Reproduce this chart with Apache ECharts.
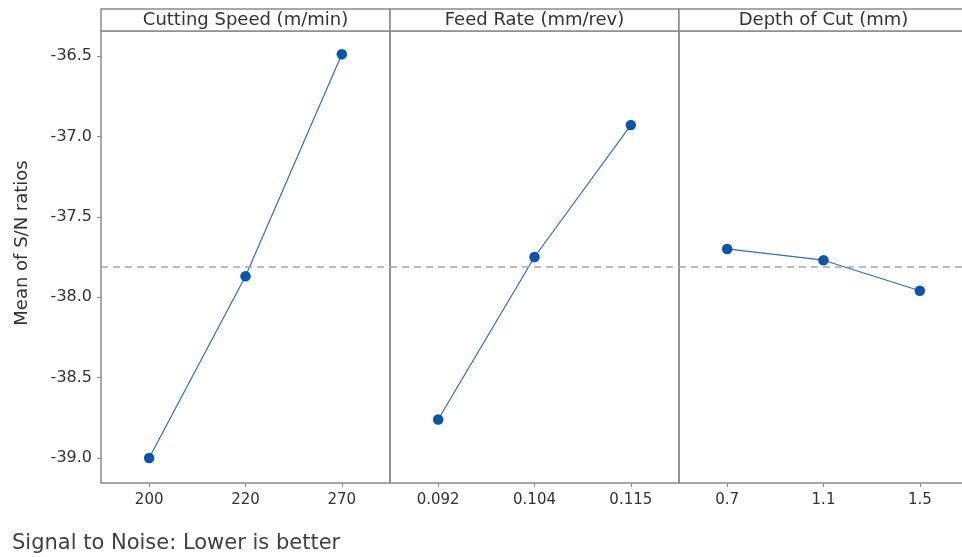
<!DOCTYPE html>
<html>
<head>
    <meta charset="utf-8">
    <title>Main Effects Plot for S/N ratios</title>
    <script type="text/javascript" src="https://cdn.jsdelivr.net/npm/echarts@6/dist/echarts.min.js"></script>
    <style>
        *{ margin:0; padding:0; }
        body{ background:#fff; }
        #main{ width:962px; height:557px; }
    </style>
</head>
<body>
<div id="main"></div>
<script type="text/javascript">
    // factor levels
    var speedLevels = ['200', '220', '270'];
    var feedLevels = ['0.092', '0.104', '0.115'];
    var depthLevels = ['0.7', '1.1', '1.5'];
    // mean of S/N ratios per level
    var speedSN = [-39.00, -37.87, -36.49];
    var feedSN = [-38.76, -37.75, -36.93];
    var depthSN = [-37.70, -37.77, -37.96];
    var overallMean = -37.81;
    var panelTitles = ['Cutting Speed (m/min)', 'Feed Rate (mm/rev)', 'Depth of Cut (mm)'];
    var yTicks = [-39.0, -38.5, -38.0, -37.5, -37.0, -36.5];

    (function(){
        var chart = echarts.init(document.getElementById('main'));
        var font = 'DejaVu Sans';
        var gray = '#8a8a8a';
        var panelLeft = [101, 390, 679];
        var panelW = 289;
        var top = 31, height = 452;

        var levels = [speedLevels, feedLevels, depthLevels];
        var values = [speedSN, feedSN, depthSN];

        var grids = [], xAxes = [], yAxes = [], series = [], graphics = [];
        for (var i = 0; i < 3; i++) {
            grids.push({
                left: panelLeft[i], top: top, width: panelW, height: height,
                outerBoundsMode: 'none',
                show: true, borderColor: gray, borderWidth: 1.5, backgroundColor: 'transparent'
            });
            xAxes.push({
                type: 'category', gridIndex: i, data: levels[i], boundaryGap: true,
                axisLine: {show: false},
                axisTick: {show: true, alignWithLabel: true, length: 4, lineStyle: {color: gray}},
                axisLabel: {color: '#333', fontFamily: font, fontSize: 15, margin: 10},
                splitLine: {show: false}
            });
            yAxes.push({
                type: 'value', gridIndex: i, min: -39.155, max: -36.345,
                axisLine: {show: false},
                axisTick: {show: i === 0, length: 4, customValues: yTicks, lineStyle: {color: gray}},
                axisLabel: {
                    show: i === 0, customValues: yTicks, color: '#333', fontFamily: font,
                    fontSize: 16, margin: 9,
                    formatter: function (v) { return v.toFixed(1); }
                },
                splitLine: {show: false}
            });
            series.push({
                type: 'line', xAxisIndex: i, yAxisIndex: i, data: values[i],
                symbol: 'circle', symbolSize: 10.5,
                lineStyle: {color: '#2a6fc4', width: 1.2},
                itemStyle: {color: '#0b55a8'},
                animation: false,
                markLine: {
                    silent: true, symbol: 'none', label: {show: false},
                    lineStyle: {color: '#a8a8a8', type: [7, 5], width: 1.5},
                    data: [{yAxis: overallMean}]
                }
            });
            graphics.push({
                type: 'rect', shape: {x: panelLeft[i], y: 9, width: panelW, height: 22},
                style: {fill: '#fff', stroke: gray, lineWidth: 1.5}
            });
            graphics.push({
                type: 'text', x: panelLeft[i] + panelW / 2, y: 20,
                style: {text: panelTitles[i], font: '18px "' + font + '"', fill: '#333',
                        align: 'center', verticalAlign: 'middle'}
            });
        }
        graphics.push({
            type: 'text', x: 22, y: 243, rotation: Math.PI / 2,
            style: {text: 'Mean of S/N ratios', font: '18px "' + font + '"', fill: '#333',
                    align: 'center', verticalAlign: 'middle'}
        });
        graphics.push({
            type: 'text', x: 12, y: 544,
            style: {text: 'Signal to Noise: Lower is better', font: '21px "' + font + '"', fill: '#404040',
                    align: 'left', verticalAlign: 'middle'}
        });

        chart.setOption({
            animation: false,
            grid: grids,
            xAxis: xAxes,
            yAxis: yAxes,
            series: series,
            graphic: graphics
        });
    })();
</script>
</body>
</html>
